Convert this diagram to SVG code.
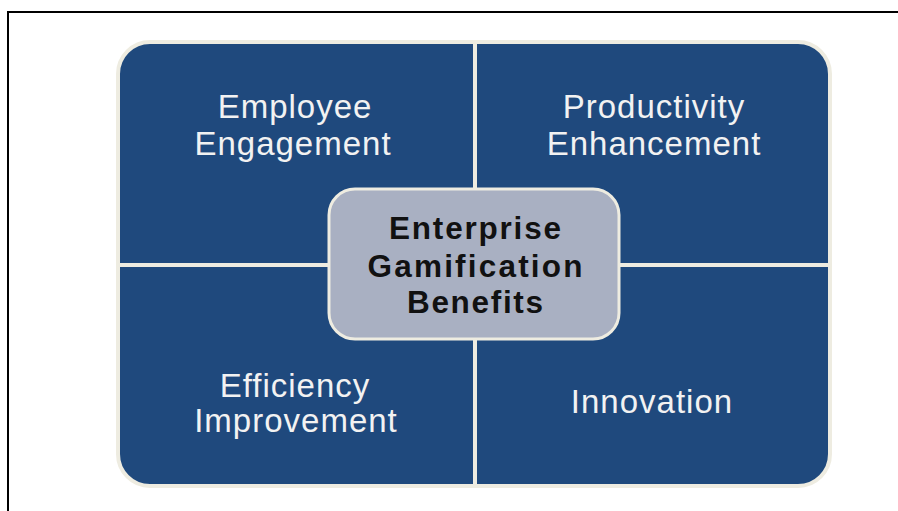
<svg xmlns="http://www.w3.org/2000/svg" width="898" height="511" viewBox="0 0 898 511">
<style>
.quad{fill:#1F497D;stroke:#EEECE1;stroke-width:4;stroke-linejoin:round}
.lbl{font-family:"Liberation Sans",Arial,sans-serif;font-size:33px;fill:#F2F2F2;text-anchor:middle;letter-spacing:1px}
.ctr{font-family:"Liberation Sans",Arial,sans-serif;font-size:31.5px;font-weight:bold;fill:#111111;text-anchor:middle}
.frame{stroke:#000;stroke-width:2;fill:none}
</style>
<rect width="898" height="511" fill="#FFFFFF"/>
<path class="frame" d="M8,511 V12 H898"/>
<g id="connectors"></g>
<g id="employee-engagement">
<path class="quad" d="M118,265 V74 A32,32 0 0 1 150,42 H475 V265 Z"/>
<text class="lbl" x="295" y="118">Employee</text>
<text class="lbl" x="293" y="155">Engagement</text>
</g>
<g id="productivity-enhancement">
<path class="quad" d="M475,42 H798 A32,32 0 0 1 830,74 V265 H475 Z"/>
<text class="lbl" x="654" y="118">Productivity</text>
<text class="lbl" x="654" y="155">Enhancement</text>
</g>
<g id="efficiency-improvement">
<path class="quad" d="M118,265 H475 V486 H150 A32,32 0 0 1 118,454 Z"/>
<text class="lbl" x="295" y="397">Efficiency</text>
<text class="lbl" x="296" y="432">Improvement</text>
</g>
<g id="innovation">
<path class="quad" d="M475,265 H830 V454 A32,32 0 0 1 798,486 H475 Z"/>
<text class="lbl" x="652" y="413">Innovation</text>
</g>
<g id="enterprise-gamification-benefits">
<rect x="329" y="189" width="290" height="150" rx="26" ry="26" fill="#A9B0C2" stroke="#EEECE1" stroke-width="3"/>
<text class="ctr" x="475" y="239" textLength="172" lengthAdjust="spacing">Enterprise</text>
<text class="ctr" x="475" y="277" textLength="215" lengthAdjust="spacing">Gamification</text>
<text class="ctr" x="475" y="313" textLength="136" lengthAdjust="spacing">Benefits</text>
</g>
</svg>
